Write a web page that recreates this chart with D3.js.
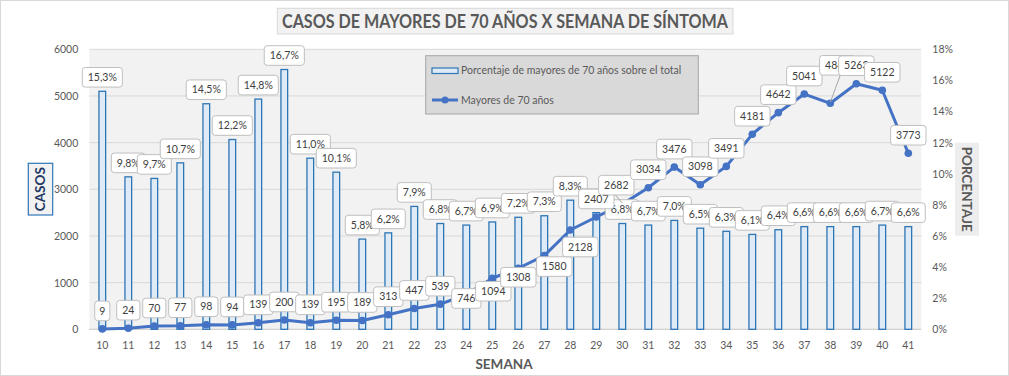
<!DOCTYPE html>
<html><head><meta charset="utf-8">
<script src="https://cdn.jsdelivr.net/npm/d3@7"></script>
<style>
html,body{margin:0;padding:0;background:#fff;}
svg{display:block;font-family:Lato,"Open Sans",sans-serif;}
</style></head>
<body>
<svg id="chart" width="1009" height="376"></svg>
<script>
// ---- data ----
const weeks = ["10","11","12","13","14","15","16","17","18","19","20","21","22","23","24","25","26","27","28","29","30","31","32","33","34","35","36","37","38","39","40","41"];
const casos = [9,24,70,77,98,94,139,200,139,195,189,313,447,539,746,1094,1308,1580,2128,2407,2682,3034,3476,3098,3491,4181,4642,5041,4843,5263,5122,3773];
const porcentaje = [15.3,9.8,9.7,10.7,14.5,12.2,14.8,16.7,11.0,10.1,5.8,6.2,7.9,6.8,6.7,6.9,7.2,7.3,8.3,7.5,6.8,6.7,7.0,6.5,6.3,6.1,6.4,6.6,6.6,6.6,6.7,6.6];
const leftTicks = [0,1000,2000,3000,4000,5000,6000];
const rightTicks = [0,2,4,6,8,10,12,14,16,18];
const titleText = "CASOS DE MAYORES DE 70 AÑOS X SEMANA DE SÍNTOMA";
const seriesBarName = "Porcentaje de mayores de 70 años sobre el total";
const seriesLineName = "Mayores de 70 años";

// label placement tweaks for the line labels (offset of label centre from point), default above
const lineLabelOffset = {"24":[0,4],"25":[1,13],"26":[0,9],"27":[10,11],"28":[10,17],"30":[-6,-19],"38":[7,-38]};
const leaderWeeks = ["30","38"];

// ---- layout ----
const svg = d3.select("#chart");
const plot = {left:89.3, right:921.3, top:49.3, bottom:329.3};
const txt = "#595959";
const font = "Lato, 'Open Sans', sans-serif";

svg.append("rect").attr("x",0.5).attr("y",0.5).attr("width",1008).attr("height",375)
  .attr("fill","#fff").attr("stroke","#D9D9D9");

const x = d3.scaleBand().domain(weeks).range([plot.left, plot.right])
  .paddingInner(1-8/26).paddingOuter((1-8/26)/2);
const yL = d3.scaleLinear().domain([0,6000]).range([plot.bottom, plot.top]);
const yR = d3.scaleLinear().domain([0,18]).range([plot.bottom, plot.top]);

// plot background
svg.append("rect").attr("x",plot.left).attr("y",plot.top)
  .attr("width",plot.right-plot.left).attr("height",plot.bottom-plot.top).attr("fill","#F2F2F2");

// gridlines
svg.append("g").selectAll("line").data(leftTicks).join("line")
  .attr("x1",plot.left).attr("x2",plot.right)
  .attr("y1",d=>yL(d)).attr("y2",d=>yL(d))
  .attr("stroke","#D9D9D9").attr("stroke-width",1);

// axes
const axL = svg.append("g").attr("transform",`translate(${plot.left},0)`)
  .call(d3.axisLeft(yL).tickValues(leftTicks).tickSize(0).tickPadding(11).tickFormat(d3.format("d")));
const axR = svg.append("g").attr("transform",`translate(${plot.right},0)`)
  .call(d3.axisRight(yR).tickValues(rightTicks).tickSize(0).tickPadding(11).tickFormat(d=>d+"%"));
const axB = svg.append("g").attr("transform",`translate(0,${plot.bottom})`)
  .call(d3.axisBottom(x).tickSize(0).tickPadding(10));
[axL,axR,axB].forEach(a=>{
  a.select(".domain").remove();
  a.selectAll("text").attr("fill",txt).style("font-family",font).style("font-size","10.5px");
});
axB.selectAll("text").attr("dy","0.9em");
svg.append("line").attr("x1",plot.left).attr("x2",plot.right).attr("y1",plot.bottom).attr("y2",plot.bottom)
  .attr("stroke","#D0D0D0");

// bars
svg.append("g").selectAll("rect").data(weeks).join("rect")
  .attr("x",(d)=>x(d)+0.65).attr("width",x.bandwidth()-1.3)
  .attr("y",(d,i)=>yR(porcentaje[i])).attr("height",(d,i)=>plot.bottom-yR(porcentaje[i]))
  .attr("fill","#DEEBF7").attr("stroke","#2E75B6").attr("stroke-width",1.3);

// line
const cx = d=>x(d)+x.bandwidth()/2;
svg.append("path").datum(weeks)
  .attr("d",d3.line().x(d=>cx(d)).y((d,i)=>yL(casos[i])))
  .attr("fill","none").attr("stroke","#4472C4").attr("stroke-width",3).attr("stroke-linejoin","round");
svg.append("g").selectAll("circle").data(weeks).join("circle")
  .attr("cx",d=>cx(d)).attr("cy",(d,i)=>yL(casos[i])).attr("r",3.8).attr("fill","#4472C4");

// data labels
function labelBox(g, cxv, cyv, text){
  const grp = g.append("g");
  const r = grp.append("rect");
  const t = grp.append("text").attr("x",cxv).attr("y",cyv).attr("dy","0.35em")
    .attr("text-anchor","middle").attr("fill","#404040")
    .style("font-family",font).style("font-size","10.5px").text(text);
  const w = t.node().getComputedTextLength();
  const pad = w < 10 ? 4.5 : 5.5;
  r.attr("x",cxv-w/2-pad).attr("y",cyv-9.8).attr("width",w+2*pad).attr("height",19.6)
   .attr("rx",3).attr("fill","#fff").attr("stroke","#BFBFBF").attr("stroke-width",1);
  return grp;
}
const fmtPct = v=>d3.format(".1f")(v).replace(".",",")+"%";
const gl = svg.append("g");
weeks.forEach((w,i)=>{
  labelBox(gl, cx(w), yR(porcentaje[i])-14, fmtPct(porcentaje[i]));
});
const gl2 = svg.append("g");
weeks.forEach((w,i)=>{
  const off = lineLabelOffset[w] || [0,-18];
  const px = cx(w), py = yL(casos[i]);
  const lx = px+off[0], ly = py+off[1];
  if(leaderWeeks.includes(w)){
    gl2.append("line").attr("x1",lx+ (w==="38"?3:-1)).attr("y1",ly+9.8).attr("x2",px).attr("y2",py-1)
      .attr("stroke","#A6A6A6").attr("stroke-width",1);
  }
  labelBox(gl2, lx, ly, String(casos[i]));
});

// legend
const lg = svg.append("g");
lg.append("rect").attr("x",425.7).attr("y",55.7).attr("width",272.6).attr("height",58.3)
  .attr("fill","#D9D9D9").attr("stroke","#A6A6A6");
lg.append("rect").attr("x",432).attr("y",68).attr("width",26).attr("height",5.5)
  .attr("fill","#DEEBF7").attr("stroke","#2E75B6").attr("stroke-width",1.2);
lg.append("text").attr("x",461).attr("y",70.5).attr("dy","0.35em").attr("fill",txt)
  .style("font-family",font).style("font-size","10.5px").text(seriesBarName);
lg.append("line").attr("x1",432).attr("x2",458).attr("y1",100).attr("y2",100)
  .attr("stroke","#4472C4").attr("stroke-width",3);
lg.append("circle").attr("cx",445).attr("cy",100).attr("r",3.5).attr("fill","#4472C4");
lg.append("text").attr("x",461).attr("y",100).attr("dy","0.35em").attr("fill",txt)
  .style("font-family",font).style("font-size","10.5px").text(seriesLineName);

// title
svg.append("rect").attr("x",277.3).attr("y",8.3).attr("width",455.7).attr("height",25.7)
  .attr("fill","#F2F2F2").attr("stroke","#D9D9D9");
svg.append("text").attr("x",505).attr("y",21.5).attr("dy","0.35em").attr("text-anchor","middle")
  .attr("fill",txt).style("font-family",font).style("font-weight","bold").style("font-size","18px")
  .attr("textLength",446).attr("lengthAdjust","spacingAndGlyphs").text(titleText);

// axis titles
svg.append("rect").attr("x",28.3).attr("y",163.3).attr("width",24.4).attr("height",51.7)
  .attr("fill","#F2F2F2").attr("stroke","#2E75B6").attr("stroke-width",1.2);
svg.append("text").attr("transform","translate(40.5,189.2) rotate(-90)").attr("dy","0.36em")
  .attr("text-anchor","middle").attr("fill","#1F3864").style("font-family",font)
  .style("font-weight","bold").style("font-size","13.5px").text("CASOS");
svg.append("rect").attr("x",955).attr("y",142.7).attr("width",24).attr("height",93)
  .attr("fill","#EDEDED");
svg.append("text").attr("transform","translate(967,189.2) rotate(90)").attr("dy","0.36em")
  .attr("text-anchor","middle").attr("fill",txt).style("font-family",font)
  .style("font-weight","bold").style("font-size","13.5px").text("PORCENTAJE");
svg.append("text").attr("x",504).attr("y",364).attr("dy","0.36em").attr("text-anchor","middle")
  .attr("fill",txt).style("font-family",font).style("font-weight","bold").style("font-size","13.5px")
  .text("SEMANA");
</script>
</body></html>
